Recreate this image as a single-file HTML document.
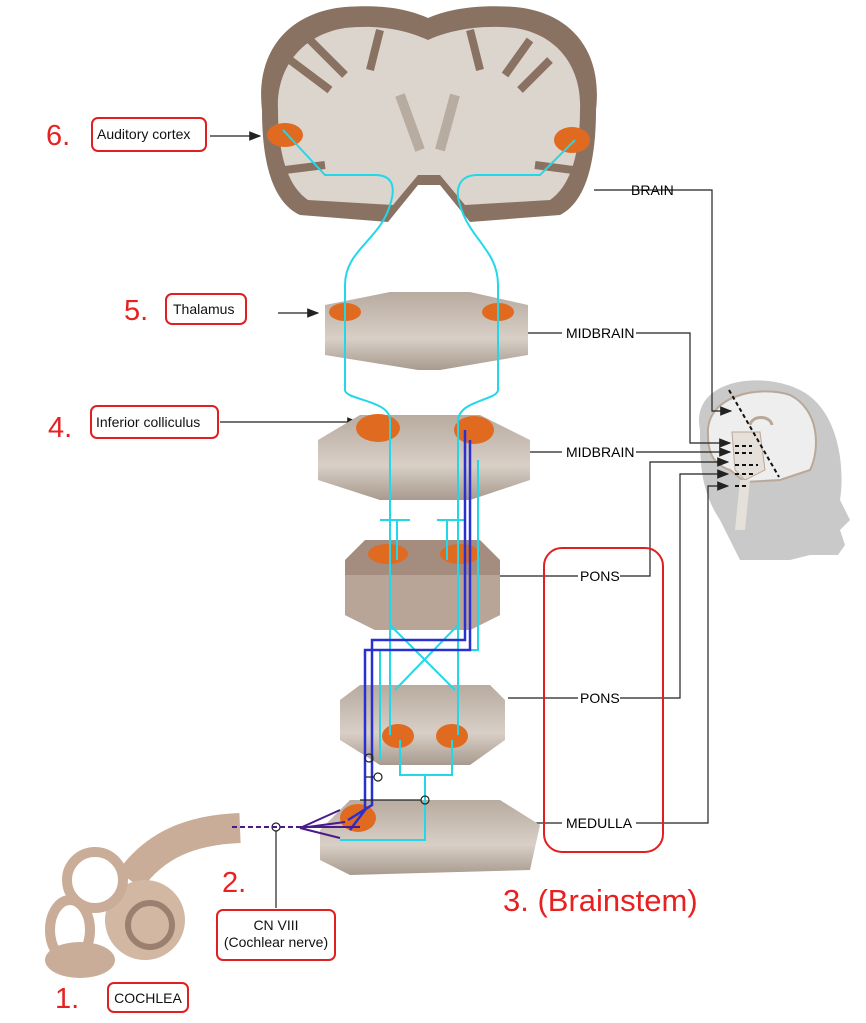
<!DOCTYPE html>
<html><head><meta charset="utf-8"><style>
html,body{margin:0;padding:0;background:#fff;width:866px;height:1023px;overflow:hidden}
svg{display:block}
text{font-family:"Liberation Sans",sans-serif}
</style></head><body>
<svg width="866" height="1023" viewBox="0 0 866 1023" xmlns="http://www.w3.org/2000/svg">
<defs>
<marker id="ar" markerWidth="10" markerHeight="8" refX="9" refY="4" orient="auto"><path d="M0,0 L10,4 L0,8 z" fill="#222"/></marker>
<linearGradient id="sl" x1="0" y1="0" x2="0" y2="1"><stop offset="0" stop-color="#b8aba0"/><stop offset="0.6" stop-color="#d8cfc6"/><stop offset="1" stop-color="#a89a8e"/></linearGradient>
</defs>

<path d="M700,430 C690,380 760,370 800,390 C840,410 845,470 840,500 L850,520 L840,530 L845,545 L838,555 L810,555 L790,560 L740,560 L720,520 C700,490 700,460 700,430 z" fill="#c9c9c9"/>
<path d="M708,435 C705,395 760,385 790,395 C820,410 820,450 810,470 L780,480 L745,482 L730,470 C715,465 708,455 708,435 z" fill="#eee" stroke="#b9a898" stroke-width="2"/>
<path d="M732,432 L760,432 L765,470 L745,480 L735,470 z" fill="#e6e0da" stroke="#b9a898"/>
<path d="M740,480 L735,530 L745,530 L750,480 z" fill="#e6e0da"/>
<path d="M750,425 C752,415 770,415 772,425" fill="none" stroke="#b9a898" stroke-width="3"/>
<line x1="729" y1="390" x2="779" y2="477" stroke="#111" stroke-width="2" stroke-dasharray="4,3"/>
<g stroke="#111" stroke-width="2" stroke-dasharray="4,3"><line x1="735" y1="446" x2="752" y2="446"/><line x1="735" y1="453" x2="752" y2="453"/><line x1="735" y1="465" x2="758" y2="465"/><line x1="735" y1="474" x2="755" y2="474"/><line x1="735" y1="486" x2="746" y2="486"/></g>

<g fill="none" stroke="#222" stroke-width="1.2">
<path d="M594,190 H712 V411 H731" marker-end="url(#ar)"/>
<path d="M636,333 H690 V443 H730" marker-end="url(#ar)"/>
<path d="M636,452 H730" marker-end="url(#ar)"/>
<path d="M620,576 H650 V462 H728" marker-end="url(#ar)"/>
<path d="M620,698 H680 V474 H728" marker-end="url(#ar)"/>
<path d="M636,823 H708 V486 H728" marker-end="url(#ar)"/>
<path d="M528,333 H562"/><path d="M524,452 H562"/><path d="M500,576 H578"/><path d="M508,698 H578"/><path d="M510,823 H562"/>
<path d="M210,136 H260" marker-end="url(#ar)"/>
<path d="M278,313 H318" marker-end="url(#ar)"/>
<path d="M220,422 H358" marker-end="url(#ar)"/>
</g>
<g font-size="14">
<text x="631" y="195">BRAIN</text>
<text x="566" y="338">MIDBRAIN</text>
<text x="566" y="457">MIDBRAIN</text>
<text x="580" y="581">PONS</text>
<text x="580" y="703">PONS</text>
<text x="566" y="828">MEDULLA</text>
</g>
<rect x="544" y="548" width="119" height="304" rx="18" fill="none" stroke="#e02020" stroke-width="2"/>

<!-- brain -->
<path d="M262,110 C255,50 290,12 345,7 C385,4 410,10 428,18 C446,10 475,4 515,7 C570,12 603,50 596,110 C596,150 590,200 560,215 L470,222 L440,185 L418,185 L388,222 L300,215 C268,200 262,150 262,110 z" fill="#8a7262"/>
<path d="M278,110 C276,70 300,35 345,28 C385,24 410,32 428,40 C446,32 475,24 515,28 C560,35 582,70 580,110 C580,150 572,185 550,200 L465,205 L440,175 L418,175 L393,205 L308,200 C286,185 278,150 278,110 z" fill="#dcd5cd"/>
<path d="M290,60 L330,90 M310,40 L345,75 M550,60 L520,90 M530,40 L505,75 M285,170 L325,165 M573,170 L535,165 M380,30 L370,70 M470,30 L480,70" stroke="#8a7262" stroke-width="8" fill="none"/>
<path d="M400,95 L420,150 M455,95 L440,150" stroke="#b8aba0" stroke-width="10" fill="none"/>
<ellipse cx="285" cy="135" rx="18" ry="12" fill="#e06a20"/>
<ellipse cx="572" cy="140" rx="18" ry="13" fill="#e06a20"/>

<path d="M325,305 L390,292 L470,292 L528,305 L528,355 L440,370 L418,370 L325,355 z" fill="url(#sl)"/>
<ellipse cx="345" cy="312" rx="16" ry="9" fill="#e06a20"/><ellipse cx="498" cy="312" rx="16" ry="9" fill="#e06a20"/>
<path d="M318,440 L360,415 L480,415 L530,440 L530,480 L470,500 L380,500 L318,480 z" fill="url(#sl)"/>
<ellipse cx="378" cy="428" rx="22" ry="14" fill="#e06a20"/><ellipse cx="474" cy="430" rx="20" ry="14" fill="#e06a20"/>
<path d="M345,560 L365,540 L480,540 L500,560 L500,615 L470,630 L375,630 L345,615 z" fill="#a48d7e"/>
<path d="M345,575 L500,575 L500,615 L470,630 L375,630 L345,615z" fill="#b8a598"/>
<ellipse cx="388" cy="554" rx="20" ry="10" fill="#e06a20"/><ellipse cx="460" cy="554" rx="20" ry="10" fill="#e06a20"/>
<path d="M340,700 L360,685 L490,685 L505,700 L505,740 L470,765 L380,765 L340,740 z" fill="url(#sl)"/>
<ellipse cx="398" cy="736" rx="16" ry="12" fill="#e06a20"/><ellipse cx="452" cy="736" rx="16" ry="12" fill="#e06a20"/>
<path d="M320,830 L350,800 L500,800 L540,825 L530,870 L350,875 L320,860 z" fill="url(#sl)"/>
<ellipse cx="358" cy="818" rx="18" ry="14" fill="#e06a20"/>

<g fill="none" stroke="#22d8e8" stroke-width="2">
<path d="M283,130 L325,175 H375 C395,175 395,190 390,205 C380,240 345,250 345,285 V390 C345,400 390,400 390,420 V735"/>
<path d="M575,140 L540,175 H478 C458,175 455,190 460,205 C470,240 498,250 498,285 V390 C498,400 460,400 458,420 V735"/>
<path d="M390,625 L455,690 M458,625 L395,690"/>
<path d="M397,520 V560 M447,520 V560 M380,520 H410 M437,520 H465"/>
<path d="M400,740 V775 H425 V840 H340 M452,740 V775 H425"/>
<path d="M478,460 V650 H380 V760"/>
</g>
<g fill="none" stroke="#2830d0" stroke-width="2.5">
<path d="M465,430 V640 H372 V805 L348,820"/>
<path d="M470,440 V650 H365 V810 L350,830"/>
</g>
<path d="M300,828 L340,810 M300,828 L340,838 M300,828 L345,822" stroke="#4a1a8a" stroke-width="2" fill="none"/>
<line x1="300" y1="827" x2="360" y2="827" stroke="#4a1a8a" stroke-width="2"/>
<g fill="none" stroke="#222" stroke-width="1.2">
<circle cx="369" cy="758" r="4"/><circle cx="378" cy="777" r="4"/><circle cx="425" cy="800" r="4"/><circle cx="276" cy="827" r="4"/>
<path d="M360,800 H421 M366,777 H374"/><path d="M276,831 V908"/>
</g>

<path d="M240,828 C190,830 155,845 130,880" stroke="#c9ad98" stroke-width="30" fill="none"/>
<path d="M232,827 H300" stroke="#4a1a8a" stroke-width="2" stroke-dasharray="5,3"/>
<circle cx="145" cy="920" r="40" fill="#d2b8a3"/>
<circle cx="150" cy="925" r="22" fill="none" stroke="#9b8070" stroke-width="6"/>
<circle cx="95" cy="880" r="28" fill="none" stroke="#c9ad98" stroke-width="10"/>
<ellipse cx="70" cy="930" rx="20" ry="30" fill="none" stroke="#c9ad98" stroke-width="10"/>
<ellipse cx="80" cy="960" rx="35" ry="18" fill="#c9ad98"/>

<g font-size="14" fill="#111">
<rect x="92" y="118" width="114" height="33" rx="6" fill="#fff" stroke="#e02020" stroke-width="2"/>
<text x="97" y="139">Auditory cortex</text>
<rect x="166" y="294" width="80" height="30" rx="6" fill="#fff" stroke="#e02020" stroke-width="2"/>
<text x="173" y="314">Thalamus</text>
<rect x="91" y="406" width="127" height="32" rx="6" fill="#fff" stroke="#e02020" stroke-width="2"/>
<text x="96" y="427">Inferior colliculus</text>
<rect x="217" y="910" width="118" height="50" rx="6" fill="#fff" stroke="#e02020" stroke-width="2"/>
<text x="276" y="930" text-anchor="middle">CN VIII</text>
<text x="276" y="947" text-anchor="middle">(Cochlear nerve)</text>
<rect x="108" y="983" width="80" height="29" rx="6" fill="#fff" stroke="#e02020" stroke-width="2"/>
<text x="148" y="1003" text-anchor="middle">COCHLEA</text>
</g>
<g fill="#e82020" font-size="29">
<text x="46" y="145">6.</text>
<text x="124" y="320">5.</text>
<text x="48" y="437">4.</text>
<text x="222" y="892">2.</text>
<text x="55" y="1008">1.</text>
<text x="503" y="911" font-size="31">3. (Brainstem)</text>
</g>
</svg>
</body></html>
